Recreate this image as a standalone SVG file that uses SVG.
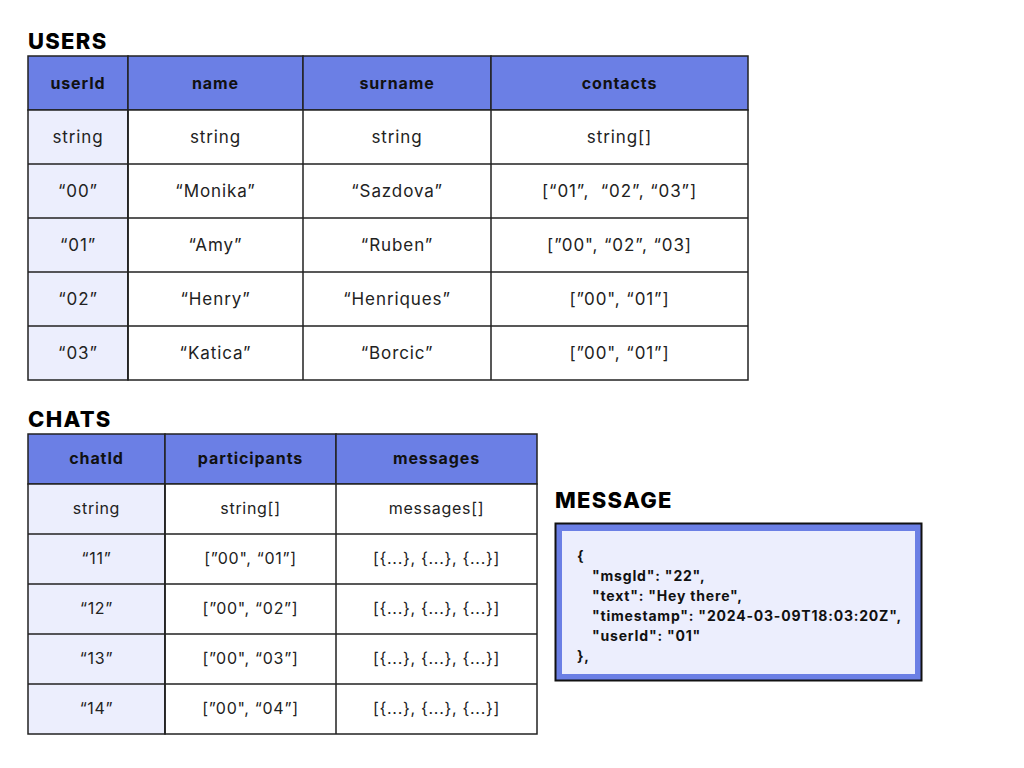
<svg xmlns="http://www.w3.org/2000/svg" width="1024" height="768" viewBox="0 0 1024 768">
<style>
.title{font-family:"Inter","Liberation Sans",sans-serif;font-weight:800;font-size:22px;fill:#000;letter-spacing:1.3px}
.hd{fill:#6b7fe5;stroke:#222;stroke-width:1.5}
.key{fill:#eceefd;stroke:#222;stroke-width:1.5}
.cell{fill:#fff;stroke:#222;stroke-width:1.5}
.ht{font-family:"Inter","Liberation Sans",sans-serif;font-weight:700;font-size:16px;fill:#111;text-anchor:middle;dominant-baseline:central;letter-spacing:0.9px}
.bt{font-family:"Inter","Liberation Sans",sans-serif;font-weight:400;font-size:17px;fill:#222;text-anchor:middle;dominant-baseline:central;letter-spacing:0.9px;white-space:pre}
.ct{font-family:"Inter","Liberation Sans",sans-serif;font-weight:400;font-size:16px;fill:#222;text-anchor:middle;dominant-baseline:central;letter-spacing:0.7px}
.mt{font-family:"Inter","Liberation Sans",sans-serif;font-weight:700;font-size:14px;fill:#111;letter-spacing:0.8px}
</style>
<rect width="1024" height="768" fill="#fff"/>

<g id="users">
<text class="title" x="28" y="49">USERS</text>
<g id="users-header">
<rect class="hd" x="28" y="56" width="100" height="54"/>
<rect class="hd" x="128" y="56" width="175" height="54"/>
<rect class="hd" x="303" y="56" width="188" height="54"/>
<rect class="hd" x="491" y="56" width="257" height="54"/>
<text class="ht" x="78" y="83">userId</text>
<text class="ht" x="215.5" y="83">name</text>
<text class="ht" x="397" y="83">surname</text>
<text class="ht" x="619.5" y="83">contacts</text>
</g>
<g id="users-rows">
<rect class="key" x="28" y="110" width="100" height="270"/>
<rect class="cell" x="128" y="110" width="620" height="270"/>
<path d="M28 164H748M28 218H748M28 272H748M28 326H748M128 110V380M303 110V380M491 110V380" stroke="#222" stroke-width="1.5" fill="none"/>
<text class="bt" x="78" y="137">string</text>
<text class="bt" x="215.5" y="137">string</text>
<text class="bt" x="397" y="137">string</text>
<text class="bt" x="619.5" y="137">string[]</text>
<text class="bt" x="78" y="191">“00”</text>
<text class="bt" x="215.5" y="191">“Monika”</text>
<text class="bt" x="397" y="191">“Sazdova”</text>
<text class="bt" x="619.5" y="191" xml:space="preserve">[“01”,  “02”, “03”]</text>
<text class="bt" x="78" y="245">“01”</text>
<text class="bt" x="215.5" y="245">“Amy”</text>
<text class="bt" x="397" y="245">“Ruben”</text>
<text class="bt" x="619.5" y="245">[”00", “02”, “03]</text>
<text class="bt" x="78" y="299">“02”</text>
<text class="bt" x="215.5" y="299">“Henry”</text>
<text class="bt" x="397" y="299">“Henriques”</text>
<text class="bt" x="619.5" y="299">[”00", “01”]</text>
<text class="bt" x="78" y="353">“03”</text>
<text class="bt" x="215.5" y="353">“Katica”</text>
<text class="bt" x="397" y="353">“Borcic”</text>
<text class="bt" x="619.5" y="353">[”00", “01”]</text>
</g>
</g>

<g id="chats">
<text class="title" x="28" y="427">CHATS</text>
<g id="chats-header">
<rect class="hd" x="28" y="434" width="137" height="50"/>
<rect class="hd" x="165" y="434" width="171" height="50"/>
<rect class="hd" x="336" y="434" width="201" height="50"/>
<text class="ht" x="96.5" y="458">chatId</text>
<text class="ht" x="250.5" y="458">participants</text>
<text class="ht" x="436.5" y="458">messages</text>
</g>
<g id="chats-rows">
<rect class="key" x="28" y="484" width="137" height="250"/>
<rect class="cell" x="165" y="484" width="372" height="250"/>
<path d="M28 534H537M28 584H537M28 634H537M28 684H537M165 484V734M336 484V734" stroke="#222" stroke-width="1.5" fill="none"/>
<text class="ct" x="96.5" y="508">string</text>
<text class="ct" x="250.5" y="508">string[]</text>
<text class="ct" x="436.5" y="508">messages[]</text>
<text class="ct" x="96.5" y="558">“11”</text>
<text class="ct" x="250.5" y="558">[”00", “01”]</text>
<text class="ct" x="436.5" y="558">[{...}, {...}, {...}]</text>
<text class="ct" x="96.5" y="608">“12”</text>
<text class="ct" x="250.5" y="608">[”00", “02”]</text>
<text class="ct" x="436.5" y="608">[{...}, {...}, {...}]</text>
<text class="ct" x="96.5" y="658">“13”</text>
<text class="ct" x="250.5" y="658">[”00", “03”]</text>
<text class="ct" x="436.5" y="658">[{...}, {...}, {...}]</text>
<text class="ct" x="96.5" y="708">“14”</text>
<text class="ct" x="250.5" y="708">[”00", “04”]</text>
<text class="ct" x="436.5" y="708">[{...}, {...}, {...}]</text>
</g>
</g>

<g id="message">
<text class="title" x="555" y="508">MESSAGE</text>
<rect x="555.5" y="523.5" width="366" height="157" fill="#6b7fe5" stroke="#111" stroke-width="2"/>
<rect x="562" y="531" width="353" height="143" fill="#eceefd"/>
<text class="mt" x="577" y="561">{</text>
<text class="mt" x="592" y="581">"msgId": "22",</text>
<text class="mt" x="592" y="601">"text": "Hey there",</text>
<text class="mt" x="592" y="621">"timestamp": "2024-03-09T18:03:20Z",</text>
<text class="mt" x="592" y="641">"userId": "01"</text>
<text class="mt" x="577" y="661">},</text>
</g>
</svg>
